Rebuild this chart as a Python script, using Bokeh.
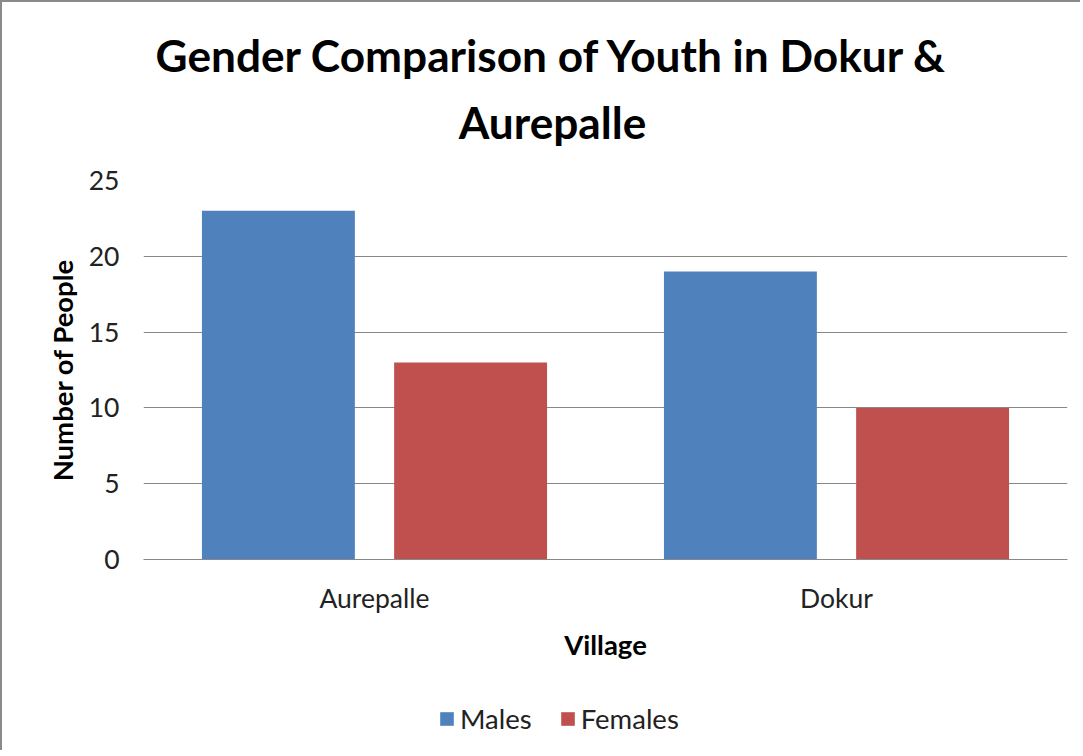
from bokeh.plotting import figure
from bokeh.models import (FactorRange, Range1d, ColumnDataSource, Label, Legend, LegendItem,
                          FixedTicker)
from bokeh.layouts import column
from bokeh.transform import dodge
from bokeh.embed import file_html
from bokeh.resources import INLINE

# ---- data ----
villages = ["Aurepalle", "Dokur"]
males = [23, 19]
females = [13, 10]
y_ticks = [0, 5, 10, 15, 20, 25]
title_line1 = "Gender Comparison of Youth in Dokur &"
title_line2 = "Aurepalle"
series_labels = ["Males", "Females"]

FONT = "Lato"
GRID = "#888888"
MALE_C = "#4F81BD"
FEMALE_C = "#C0504D"
W = 1078
LEFT, RIGHT = 141, 13


def bare(height):
    f = figure(width=W, height=height, output_backend="svg", toolbar_location=None,
               x_range=Range1d(143, 1067), y_range=Range1d(0, height),
               x_axis_location=None, y_axis_location=None,
               min_border_left=LEFT, min_border_right=RIGHT, min_border_top=0, min_border_bottom=0)
    f.grid.visible = False
    f.outline_line_color = None
    f.background_fill_color = "white"
    f.border_fill_color = "white"
    return f


# ---- title strip ----
t = bare(153)
t.add_layout(Label(x=552, y=101, text=title_line1, text_font=FONT, text_font_style="bold",
                   text_font_size="44.2px", text_align="center", text_baseline="alphabetic",
                   text_color="#000000"))
t.add_layout(Label(x=552, y=34, text=title_line2, text_font=FONT, text_font_style="bold",
                   text_font_size="44.2px", text_align="center", text_baseline="alphabetic",
                   text_color="#000000"))

# ---- main chart ----
src = ColumnDataSource(data=dict(village=villages, males=males, females=females))
p = figure(width=W, height=525, output_backend="svg", toolbar_location=None,
           x_range=FactorRange(factors=villages, range_padding=0),
           y_range=Range1d(0, 25),
           min_border_left=LEFT, min_border_right=RIGHT, min_border_top=25, min_border_bottom=121)
p.outline_line_color = None
p.background_fill_color = "white"
p.border_fill_color = "white"

p.vbar(x=dodge("village", -0.208, range=p.x_range), top="males", width=0.331,
       source=src, fill_color=MALE_C, line_color=None)
p.vbar(x=dodge("village", 0.208, range=p.x_range), top="females", width=0.331,
       source=src, fill_color=FEMALE_C, line_color=None)

p.yaxis.ticker = FixedTicker(ticks=y_ticks)
p.yaxis.axis_line_color = None
p.yaxis.major_tick_line_color = None
p.yaxis.minor_tick_line_color = None
p.yaxis.major_label_standoff = 18
p.yaxis.major_label_text_font = FONT
p.yaxis.major_label_text_font_size = "26.5px"
p.yaxis.major_label_text_color = "#222222"
p.yaxis.axis_label = "Number of People"
p.yaxis.axis_label_text_font = FONT
p.yaxis.axis_label_text_font_style = "bold"
p.yaxis.axis_label_text_font_size = "27.5px"
p.yaxis.axis_label_text_color = "#000000"
p.yaxis.axis_label_standoff = 7

p.xaxis.axis_line_color = GRID
p.xaxis.axis_line_width = 1
p.xaxis.major_tick_line_color = None
p.xaxis.minor_tick_line_color = None
p.xaxis.major_label_standoff = 16
p.xaxis.major_label_text_font = FONT
p.xaxis.major_label_text_font_size = "26.5px"
p.xaxis.major_label_text_color = "#222222"
p.xaxis.axis_label = "Village"
p.xaxis.axis_label_text_font = FONT
p.xaxis.axis_label_text_font_style = "bold"
p.xaxis.axis_label_text_font_size = "27.5px"
p.xaxis.axis_label_text_color = "#000000"
p.xaxis.axis_label_standoff = 11

p.xgrid.grid_line_color = None
p.ygrid.grid_line_color = GRID
p.ygrid.grid_line_width = 1

# ---- legend strip (proxy renderers of zero size, only to carry the legend swatches) ----
lg = bare(70)
lm = lg.vbar(x=0, top=0, width=0, source=src, fill_color=MALE_C, line_color=None)
lf = lg.vbar(x=0, top=0, width=0, source=src, fill_color=FEMALE_C, line_color=None)
legend = Legend(items=[LegendItem(label=series_labels[0], renderers=[lm]),
                       LegendItem(label=series_labels[1], renderers=[lf])],
                orientation="horizontal", location=(295, 15),
                label_text_font=FONT, label_text_font_size="27.5px", label_text_color="#222222",
                glyph_width=17, glyph_height=17, label_standoff=5, spacing=27,
                padding=0, margin=0, border_line_color=None, background_fill_alpha=0)
lg.add_layout(legend, "center")

layout = column(t, p, lg, spacing=0)
layout.styles = {"border-left": "2px solid #8a8a8a", "border-top": "2px solid #8a8a8a"}

open("out.html", "w").write(file_html(layout, INLINE))
